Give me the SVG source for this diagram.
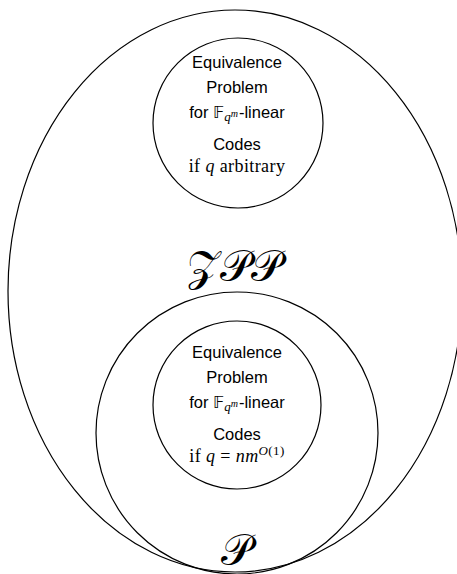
<svg xmlns="http://www.w3.org/2000/svg" width="457" height="574" viewBox="0 0 457 574">
<style>
.sh{fill:none;stroke:#000;stroke-width:1.2}
.sf{font-family:"Liberation Sans","DejaVu Sans",sans-serif;font-size:16.5px;fill:#000}
.rm{font-family:"Liberation Serif","DejaVu Serif",serif;font-size:18px;letter-spacing:0.4px;fill:#000}
.mi{font-family:"Liberation Serif","DejaVu Serif",serif;font-style:italic;fill:#000}
.bb{font-family:"DejaVu Sans","Noto Sans",sans-serif}
.cal{font-family:"DejaVu Serif","Liberation Serif",serif;font-size:43px;fill:#000}
</style>
<rect width="457" height="574" fill="#fff"/>
<g id="zpp">
<ellipse class="sh" cx="235" cy="291" rx="227" ry="281"/>
<text class="cal" x="234" y="281" text-anchor="middle">𝒵𝒫𝒫</text>
</g>
<g id="p">
<circle class="sh" cx="237" cy="433" r="141"/>
<text class="cal" x="236" y="565" text-anchor="middle">𝒫</text>
</g>
<g id="eq-arbitrary">
<circle class="sh" cx="238" cy="123" r="85"/>
<text class="sf" x="237" y="68" text-anchor="middle">Equivalence</text>
<text class="sf" x="237" y="93" text-anchor="middle">Problem</text>
<text class="sf" x="237" y="118" text-anchor="middle">for <tspan class="bb">𝔽</tspan><tspan class="mi" font-size="13" dy="3">q</tspan><tspan class="mi" font-size="10" dy="-4">m</tspan><tspan dy="1" dx="1">-linear</tspan></text>
<text class="sf" x="237" y="150" text-anchor="middle">Codes</text>
<text class="rm" x="237" y="172" text-anchor="middle">if <tspan class="mi">q</tspan> arbitrary</text>
</g>
<g id="eq-poly">
<circle class="sh" cx="237" cy="405" r="84"/>
<text class="sf" x="237" y="358" text-anchor="middle">Equivalence</text>
<text class="sf" x="237" y="383" text-anchor="middle">Problem</text>
<text class="sf" x="237" y="408" text-anchor="middle">for <tspan class="bb">𝔽</tspan><tspan class="mi" font-size="13" dy="3">q</tspan><tspan class="mi" font-size="10" dy="-4">m</tspan><tspan dy="1" dx="1">-linear</tspan></text>
<text class="sf" x="237" y="440" text-anchor="middle">Codes</text>
<text class="rm" x="237" y="462" text-anchor="middle">if <tspan class="mi">q</tspan> = <tspan class="mi">nm</tspan><tspan font-size="13" dy="-7"><tspan class="mi">O</tspan>(1)</tspan></text>
</g>
<g id="connectors"/>
</svg>
